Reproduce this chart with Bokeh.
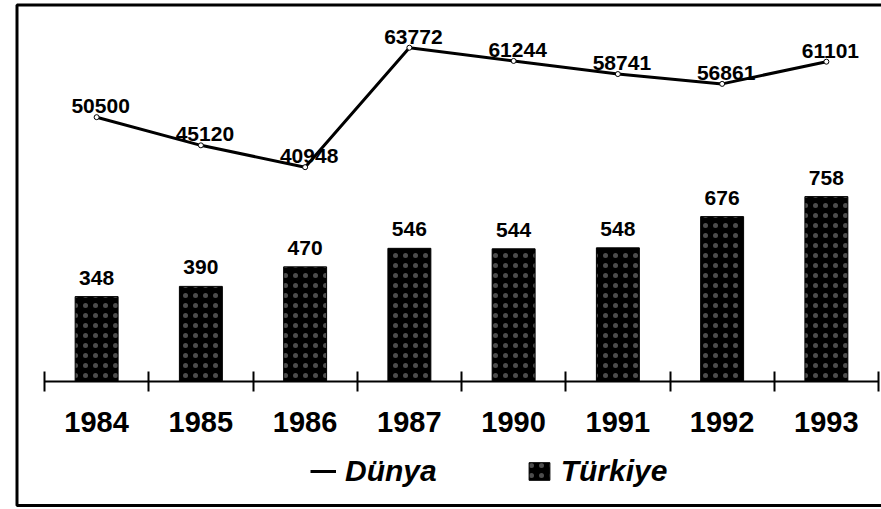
from bokeh.plotting import figure
from bokeh.models import (ColumnDataSource, Range1d, FixedTicker, LabelSet, Legend,
                          LegendItem, BoxAnnotation)
from bokeh.embed import file_html
from bokeh.resources import INLINE
from bokeh.core.properties import value

# ---- data ----
years = ["1984", "1985", "1986", "1987", "1990", "1991", "1992", "1993"]
turkiye = [348, 390, 470, 546, 544, 548, 676, 758]
dunya = [50500, 45120, 40948, 63772, 61244, 58741, 56861, 61101]

xs = list(range(1, len(years) + 1))
src = ColumnDataSource(dict(
    x=xs, year=years, t=turkiye, d=dunya,
    tl=[str(v) for v in turkiye], dl=[str(v) for v in dunya],
))

FONT = "Liberation Sans"

# ---- layout geometry (pixels) ----
W, H = 881, 509
AX_LEFT_PX, AX_RIGHT_PX = 44, 878      # axis extent
BASE_PX = 381                          # baseline (value 0) from top
PX_PER_T = 0.2439                      # pixels per unit, Türkiye scale
PX_PER_D = 0.005234                    # pixels per unit, Dünya scale

n = len(years)
px_per_x = (AX_RIGHT_PX - AX_LEFT_PX) / n
x0 = 0.5 - AX_LEFT_PX / px_per_x
x1 = 0.5 + (W - AX_LEFT_PX) / px_per_x

p = figure(width=W, height=H, output_backend="svg", toolbar_location=None,
           x_range=Range1d(x0, x1),
           y_range=Range1d(-(H - BASE_PX) / PX_PER_T, BASE_PX / PX_PER_T),
           y_axis_location=None,
           min_border_left=0, min_border_right=0, min_border_top=0,
           min_border_bottom=0)
p.extra_y_ranges = {"dunya": Range1d(-(H - BASE_PX) / PX_PER_D, BASE_PX / PX_PER_D)}
p.grid.visible = False
p.outline_line_color = None
p.background_fill_color = "white"
p.border_fill_color = "white"

bars = p.vbar(x="x", top="t", bottom=0, width=0.412, source=src,
              fill_color="black", line_color="black",
              hatch_pattern="dot", hatch_color="white", hatch_scale=10,
              hatch_weight=0.5, hatch_alpha=0.3)

line = p.line(x="x", y="d", source=src, y_range_name="dunya",
              line_color="black", line_width=3)
p.scatter(x="x", y="d", source=src, y_range_name="dunya", marker="circle",
          size=5, fill_color="white", line_color="black", line_width=1)

# x axis drawn at the baseline: labels at category centres, ticks at boundaries
ax = p.xaxis[0]
ax.fixed_location = 0
ax.bounds = (0.5, n + 0.5)
ax.ticker = FixedTicker(ticks=xs, minor_ticks=[i + 0.5 for i in range(n + 1)])
ax.major_label_overrides = {x: y for x, y in zip(xs, years)}
ax.major_tick_in = 0
ax.major_tick_out = 0
ax.minor_tick_in = 10
ax.minor_tick_out = 10
ax.minor_tick_line_width = 2
ax.minor_tick_line_color = "black"
ax.axis_line_width = 2
ax.axis_line_color = "black"
ax.major_label_standoff = 20
ax.major_label_text_font = FONT
ax.major_label_text_font_style = "bold"
ax.major_label_text_font_size = "29px"
ax.major_label_text_color = "black"

bar_labels = LabelSet(x="x", y="t", text="tl", source=src, text_align="center",
                      text_baseline="bottom", y_offset=12,
                      text_font=value(FONT), text_font_style="bold",
                      text_font_size="21px", text_color="black")
p.add_layout(bar_labels)

line_labels = LabelSet(x="x", y="d", text="dl", source=src, y_range_name="dunya",
                       text_align="center", text_baseline="bottom",
                       x_offset=4, y_offset=4,
                       text_font=value(FONT), text_font_style="bold",
                       text_font_size="21px", text_color="black")
p.add_layout(line_labels)

legend = Legend(items=[LegendItem(label="Dünya", renderers=[line]),
                       LegendItem(label="Türkiye", renderers=[bars])],
                orientation="horizontal", location=(310, 21),
                label_text_font=FONT, label_text_font_style="bold italic",
                label_text_font_size="30px", label_text_color="black",
                glyph_width=26, glyph_height=22, label_standoff=9, spacing=89,
                padding=0, margin=0, border_line_color=None,
                background_fill_alpha=0)
p.add_layout(legend)

frame_box = BoxAnnotation(left=16.5, right=W + 20, top=4.5, bottom=505,
                          left_units="canvas", right_units="canvas",
                          top_units="canvas", bottom_units="canvas",
                          fill_color=None, fill_alpha=0, line_color="black",
                          line_alpha=1, line_width=3, level="overlay")
p.add_layout(frame_box)

open("out.html", "w").write(file_html(p, INLINE))
